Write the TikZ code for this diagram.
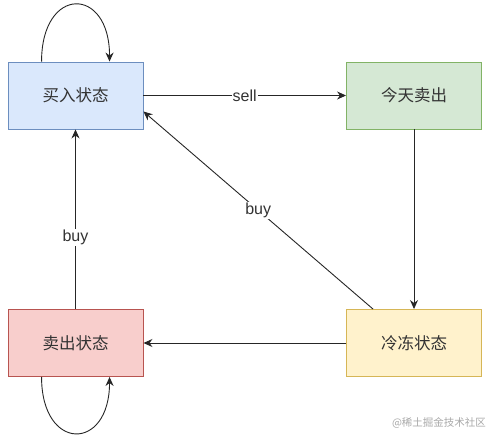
\documentclass[tikz,border=0pt]{standalone}
\usepackage{fontspec}
\setmainfont{Liberation Sans}
\newfontfamily\cjk{Noto Sans CJK SC}
\usetikzlibrary{arrows.meta}
\definecolor{bluefill}{HTML}{DAE8FC}\definecolor{bluedraw}{HTML}{6C8EBF}
\definecolor{greenfill}{HTML}{D5E8D4}\definecolor{greendraw}{HTML}{82B366}
\definecolor{yellowfill}{HTML}{FFF2CC}\definecolor{yellowdraw}{HTML}{D6B656}
\definecolor{redfill}{HTML}{F8CECC}\definecolor{reddraw}{HTML}{B85450}
\definecolor{txt}{HTML}{333333}
\definecolor{wm}{HTML}{A8A8A8}
\tikzset{
  state/.style={rectangle, draw, line width=0.9pt, minimum width=135pt, minimum height=67pt, inner sep=0pt, font=\cjk\fontsize{16.5}{18}\selectfont, text=txt},
  conn/.style={draw=black!85, line width=0.9pt, -{Stealth[length=9pt,width=8pt]}},
  lbl/.style={fill=white, inner sep=1pt, font=\fontsize{16}{18}\selectfont, text=txt},
}
\begin{document}
\begin{tikzpicture}[x=1pt,y=-1pt]
\useasboundingbox (0,0) rectangle (498,442);
\node[state, fill=bluefill, draw=bluedraw] (buy) at (75.5,95.5) {买入状态};
\node[state, fill=greenfill, draw=greendraw] (today) at (414,95.5) {今天卖出};
\node[state, fill=yellowfill, draw=yellowdraw] (freeze) at (414,343) {冷冻状态};
\node[state, fill=redfill, draw=reddraw] (sold) at (75.5,343) {卖出状态};

\draw[conn] (buy.east) -- node[lbl]{sell} (today.west);
\draw[conn] (today.south) -- (freeze.north);
\draw[conn] (freeze.west) -- (sold.west -| sold.east);
\draw[conn] (sold.north) -- node[lbl, pos=0.4]{buy} (buy.south);
\draw[conn] ([xshift=-41pt]freeze.north) -- node[lbl, pos=0.5]{buy} ([yshift=-16pt]buy.east);

\draw[conn] ([xshift=34pt]buy.north west) .. controls +(0,-76) and +(0,-76) .. ([xshift=102pt]buy.north west);
\draw[conn] ([xshift=34pt]sold.south west) .. controls +(0,75) and +(0,75) .. ([xshift=102pt]sold.south west);

\node[font=\cjk\fontsize{10.5}{12}\selectfont, text=wm] (wmk) at (439,423) {@稀土掘金技术社区};
\end{tikzpicture}
\end{document}
